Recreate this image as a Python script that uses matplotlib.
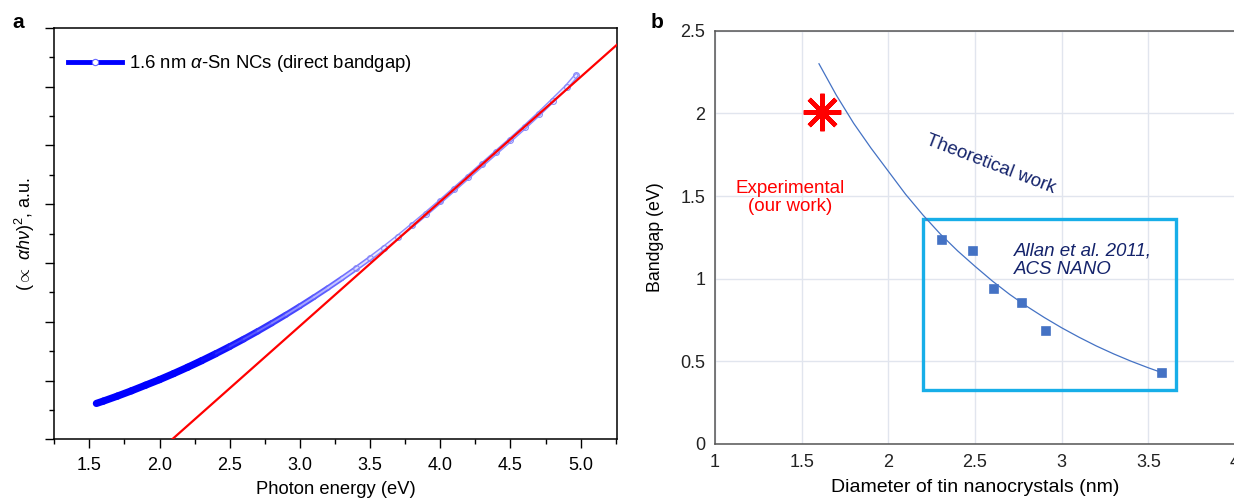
from matplotlib import pyplot as plt
from matplotlib import ticker as ticker
from matplotlib.collections import LineCollection
from matplotlib.lines import Line2D
from matplotlib.patches import Rectangle
import numpy as np

plt.rcParams['font.family'] = ['Liberation Sans', 'DejaVu Sans']
plt.rcParams['mathtext.fontset'] = 'custom'
plt.rcParams['mathtext.rm'] = 'Liberation Sans'
plt.rcParams['mathtext.it'] = 'Liberation Sans:italic'

# panel a: absorption data, arbitrary units
energy = [1.55, 1.6, 1.7, 1.8, 1.9, 2.0, 2.1, 2.2, 2.3, 2.4, 2.5, 2.6, 2.7,
          2.8, 2.9, 3.0, 3.1, 3.2, 3.3, 3.4, 3.5, 3.6, 3.7, 3.8, 3.9, 4.0,
          4.1, 4.2, 4.3, 4.4, 4.5, 4.6, 4.7, 4.8, 4.9, 4.97]
absorb = [1.22, 1.30, 1.47, 1.65, 1.84, 2.03, 2.235, 2.45, 2.675, 2.91,
          3.155, 3.41, 3.675, 3.95, 4.235, 4.53, 4.835, 5.15, 5.475, 5.81,
          6.155, 6.515, 6.89, 7.28, 7.68, 8.09, 8.51, 8.93, 9.35, 9.77,
          10.19, 10.615, 11.06, 11.52, 11.99, 12.38]
fit_x = [2.09, 5.4]
fit_y = [0.0, 14.02]

# panel b
allan_d = [2.31, 2.49, 2.61, 2.77, 2.91, 3.58]
allan_gap = [1.236, 1.168, 0.936, 0.853, 0.684, 0.431]
theory_d = [1.6, 1.7, 1.8, 1.9, 2.0, 2.1, 2.2, 2.3, 2.4, 2.5, 2.6, 2.7, 2.8,
            2.9, 3.0, 3.1, 3.2, 3.3, 3.4, 3.5, 3.58]
theory_gap = [2.30, 2.11, 1.94, 1.79, 1.65, 1.51, 1.385, 1.27, 1.168, 1.075,
              0.986, 0.905, 0.832, 0.765, 0.703, 0.646, 0.593, 0.545, 0.501,
              0.461, 0.431]
exp_d = [1.62]
exp_gap = [2.01]

fig = plt.figure(figsize=(12.34, 5.0), dpi=100)

# ---------------- panel a ----------------
ax = fig.add_axes([0.044, 0.1214, 0.4558, 0.8232])
x = np.array(energy)
y = np.array(absorb)
pts = np.column_stack([x, y])
segs = np.stack([pts[:-1], pts[1:]], axis=1)
xm = 0.5 * (x[:-1] + x[1:])
t = np.clip((xm - 2.3) / 1.3, 0, 1)[:, None]
blue = np.array([0.0, 0.0, 1.0])
light = np.array([0.55, 0.55, 1.0])
outer = (1 - t) * blue + t * light
inner = (1 - 0.85 * t) * outer + 0.85 * t * np.array([1.0, 1.0, 1.0])
ax.add_collection(LineCollection(segs, colors=outer,
                                 linewidths=(5.2 - 1.8 * t[:, 0]),
                                 capstyle='round', joinstyle='round'))
ax.add_collection(LineCollection(segs, colors=inner, linewidths=1.4,
                                 capstyle='round'))
ax.plot(x[x > 3.3], y[x > 3.3], linestyle='', marker='o', ms=4.2,
        mfc='none', mec='#8a8af6', mew=0.8)
ax.plot(fit_x, fit_y, color='red', lw=1.6, zorder=3)

ax.set_xlim(1.25, 5.257)
ax.set_ylim(0, 14)
ax.set_xticks(np.arange(1.5, 5.01, 0.5))
ax.xaxis.set_major_formatter(ticker.FormatStrFormatter('%.1f'))
ax.xaxis.set_minor_locator(ticker.MultipleLocator(0.25))
ax.yaxis.set_major_locator(ticker.MultipleLocator(2))
ax.yaxis.set_minor_locator(ticker.MultipleLocator(1))
ax.set_yticklabels([])
ax.tick_params(which='major', length=6.5, width=1, labelsize=13, pad=6)
ax.tick_params(which='minor', length=3.5, width=1)
for s in ax.spines.values():
    s.set_linewidth(1.1)
ax.set_xlabel('Photon energy (eV)', fontsize=13.2, labelpad=5)
ax.set_ylabel(r'($\propto$ $\alpha h\nu$)$^2$, a.u.', fontsize=13,
              labelpad=0)

handle = Line2D([], [], color='blue', lw=3.5, marker='o', ms=4.5,
                mfc='white', mec='#6a6aff', mew=0.8)
ax.legend([handle], [r'1.6 nm $\alpha$-Sn NCs (direct bandgap)'],
          loc='upper left', frameon=False, fontsize=13.3, handlelength=2.9,
          handletextpad=0.4, bbox_to_anchor=(-0.005, 0.978))
fig.text(0.0097, 0.955, 'a', fontsize=15, fontweight='bold', va='center')

# ---------------- panel b ----------------
bx = fig.add_axes([0.5794, 0.112, 0.4214, 0.8266])
bx.set_xlim(1, 4)
bx.set_ylim(0, 2.5)
bx.set_xticks(np.arange(1, 4.01, 0.5))
bx.set_yticks(np.arange(0, 2.51, 0.5))
fmt = ticker.FuncFormatter(lambda v, p: '%g' % v)
bx.xaxis.set_major_formatter(fmt)
bx.yaxis.set_major_formatter(fmt)
bx.tick_params(length=0, labelsize=13, pad=7, colors='#222222')
bx.grid(True, color='#e1e5ee', lw=1)
bx.set_axisbelow(True)
for side in ['left', 'bottom', 'top']:
    bx.spines[side].set_color('#555555')
    bx.spines[side].set_linewidth(1.1)
bx.spines['right'].set_visible(False)

bx.plot(theory_d, theory_gap, color='#4472C4', lw=0.9)
bx.plot(allan_d, allan_gap, linestyle='', marker='s', ms=5.5,
        color='#4472C4', mew=1.2, mec='#4472C4')
bx.plot(exp_d, exp_gap, linestyle='', marker=(8, 2, 0), ms=27, mew=3.2,
        color='red')
bx.add_patch(Rectangle((2.202, 0.327), 3.66 - 2.202, 1.359 - 0.327,
                       fill=False, ec='#17aee8', lw=2.4))

bx.text(2.59, 1.69, 'Theoretical work', rotation=-21, color='#14236b',
        fontsize=13.5, ha='center', va='center')
bx.text(1.435, 1.49, 'Experimental\n(our work)', color='red', fontsize=13.5,
        ha='center', va='center', linespacing=1.1)
bx.text(2.725, 1.113, 'Allan et al. 2011,\nACS NANO', color='#14236b',
        fontsize=13.5, style='italic', ha='left', va='center',
        linespacing=1.1)

bx.set_xlabel('Diameter of tin nanocrystals (nm)', fontsize=14, labelpad=6)
bx.set_ylabel('Bandgap (eV)', fontsize=12.8, labelpad=12)
fig.text(0.5276, 0.955, 'b', fontsize=15, fontweight='bold', va='center')

fig.savefig('out.png', dpi=100)
